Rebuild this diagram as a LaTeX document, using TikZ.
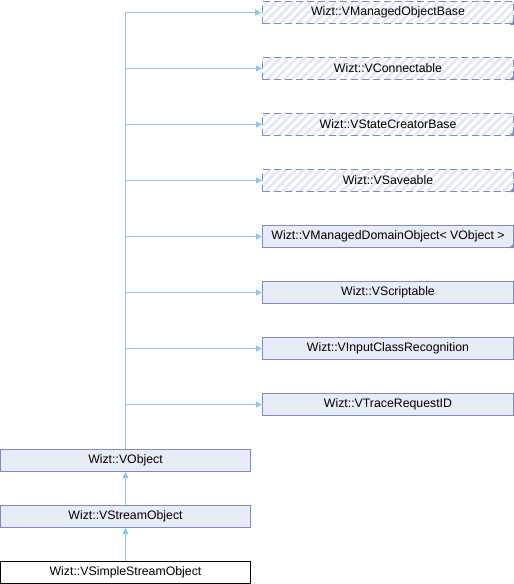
\documentclass[tikz,border=0pt]{standalone}
\usepackage{fontspec}
\setmainfont{Liberation Sans}
\usetikzlibrary{arrows.meta, positioning, patterns.meta}
\definecolor{boxfill}{HTML}{E8ECF6}
\definecolor{boxline}{HTML}{7A8EC6}
\definecolor{edgeblue}{HTML}{8FC6EA}
\definecolor{hatch}{HTML}{E2E7F3}

\begin{document}
\begin{tikzpicture}[x=1pt, y=-1pt, >={Triangle[length=6pt, width=6pt]},
      cls/.style={draw=boxline, fill=boxfill, line width=1pt, minimum width=251pt,
                  minimum height=22pt, inner sep=0pt, font=\fontsize{12.3}{14}\selectfont},
      ext/.style={cls, preaction={fill=white}, pattern={Lines[angle=45, distance=6pt, line width=2.6pt]},
                  pattern color=hatch, dash pattern=on 7pt off 4pt},
      arr/.style={->, edgeblue, line width=1pt}]

    \useasboundingbox (0,0) rectangle (514,584);

    % ============================
    % BASE CLASSES (right column)
    % ============================
    \foreach \nm/\st/\txt [count=\i] in {mob/ext/Wizt::VManagedObjectBase,
        conn/ext/Wizt::VConnectable, scb/ext/Wizt::VStateCreatorBase,
        save/ext/Wizt::VSaveable, mdo/cls/Wizt::VManagedDomainObject< VObject >,
        scr/cls/Wizt::VScriptable, icr/cls/Wizt::VInputClassRecognition,
        trid/cls/Wizt::VTraceRequestID}
      \node[\st] (\nm) at (388, 12.5+56*\i-56) {\txt};

    % truncation markers
    \foreach \nm in {mob, conn, scb, save, mdo}
      \fill[boxline] (\nm.south east) -- ++(-5,0) -- ++(5,-5) -- cycle;

    % ============================
    % DERIVED CHAIN (left column)
    % ============================
    \node[cls, minimum width=250pt] (vobj) at (125.5, 460.5) {Wizt::VObject};
    \node[cls, minimum width=250pt] (vstr) at (125.5, 516.5) {Wizt::VStreamObject};
    \node[cls, minimum width=250pt, draw=black, fill=white] (vsso) at (125.5, 572.5) {Wizt::VSimpleStreamObject};

    % inheritance edges
    \foreach \nm in {mob, conn, scb, save, mdo, scr, icr, trid}
      \draw[arr] (vobj.north) |- (\nm.west);
    \draw[arr] (vstr) -- (vobj);
    \draw[arr] (vsso) -- (vstr);

\end{tikzpicture}
\end{document}
